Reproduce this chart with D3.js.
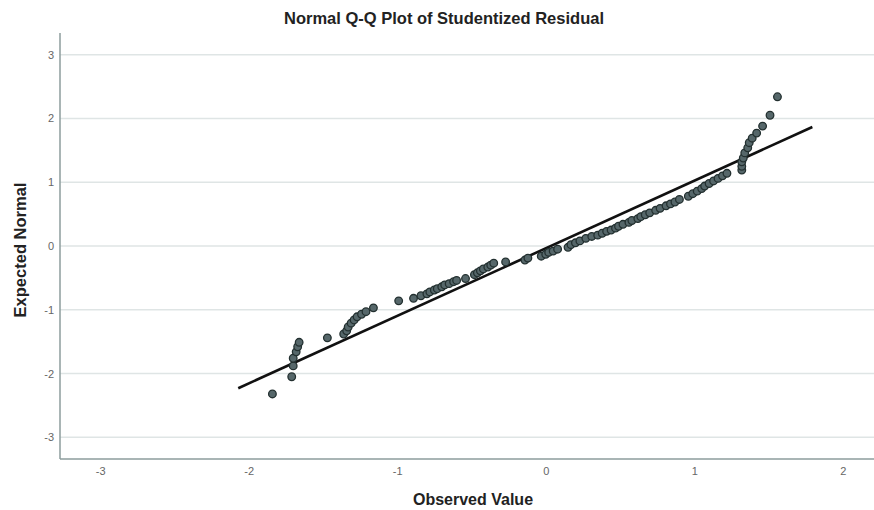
<!DOCTYPE html>
<html lang="en">
<head>
  <meta charset="UTF-8">
  <title>Normal Q-Q Plot of Studentized Residual</title>
  <script src="https://d3js.org/d3.v7.min.js"></script>
  <style>
    body { margin: 0; background: #fff; }
    svg { display: block; font-family: "Liberation Sans", Arial, sans-serif; }
  </style>
</head>
<body>
  <svg width="874" height="510"></svg>

  <script>
    // Observed studentized residuals (x) and expected normal values (y)
    const observed = [
      -1.84, -1.71, -1.70, -1.70, -1.68, -1.67, -1.66, -1.47, -1.36, -1.34,
      -1.33, -1.31, -1.29, -1.27, -1.24, -1.21, -1.16, -0.99, -0.89, -0.84,
      -0.80, -0.78, -0.75, -0.73, -0.70, -0.68, -0.65, -0.62, -0.60, -0.54,
      -0.48, -0.46, -0.44, -0.42, -0.39, -0.37, -0.35, -0.27, -0.14, -0.12,
      -0.03, 0.00, 0.02, 0.05, 0.08, 0.15, 0.17, 0.20, 0.23, 0.27,
      0.31, 0.35, 0.38, 0.41, 0.44, 0.47, 0.49, 0.52, 0.56, 0.58,
      0.62, 0.64, 0.67, 0.70, 0.74, 0.77, 0.81, 0.84, 0.87, 0.90,
      0.96, 0.99, 1.02, 1.05, 1.07, 1.10, 1.13, 1.16, 1.19, 1.22,
      1.32, 1.32, 1.32, 1.33, 1.34, 1.36, 1.37, 1.39, 1.42, 1.46,
      1.51, 1.56
    ];
    const expected = [
      -2.32, -2.05, -1.88, -1.76, -1.66, -1.58, -1.51, -1.44, -1.38, -1.33,
      -1.27, -1.21, -1.16, -1.11, -1.07, -1.03, -0.97, -0.86, -0.82, -0.78,
      -0.75, -0.72, -0.69, -0.67, -0.64, -0.61, -0.59, -0.56, -0.54, -0.51,
      -0.45, -0.42, -0.39, -0.36, -0.33, -0.30, -0.27, -0.25, -0.22, -0.19,
      -0.16, -0.13, -0.10, -0.08, -0.05, -0.02, 0.02, 0.05, 0.08, 0.12,
      0.15, 0.17, 0.20, 0.23, 0.25, 0.28, 0.31, 0.34, 0.37, 0.40,
      0.43, 0.46, 0.49, 0.52, 0.56, 0.59, 0.63, 0.66, 0.69, 0.73,
      0.78, 0.82, 0.86, 0.90, 0.94, 0.98, 1.02, 1.06, 1.10, 1.14,
      1.19, 1.25, 1.32, 1.38, 1.46, 1.54, 1.62, 1.69, 1.77, 1.88,
      2.05, 2.34
    ];

    // Reference line end points
    const refX = [-2.07, 1.795];
    const refY = [-2.23, 1.866];

    const xTicks = [-3, -2, -1, 0, 1, 2];
    const yTicks = [-3, -2, -1, 0, 1, 2, 3];

    const data = observed.map((v, i) => ({ x: v, y: expected[i] }));

    const svg = d3.select("svg"),
          plotLeft = 60, plotRight = 874, plotTop = 33, plotBottom = 459;

    const x = d3.scaleLinear().domain([-3.27, 2.21]).range([plotLeft, plotRight]);
    const y = d3.scaleLinear().domain([-3.34, 3.34]).range([plotBottom, plotTop]);

    // plain hyphen for negatives, like the original
    const fmt = d => String(d);

    // Horizontal grid lines
    svg.append("g")
      .selectAll("line")
      .data(yTicks)
      .join("line")
        .attr("x1", plotLeft)
        .attr("x2", plotRight)
        .attr("y1", d => y(d))
        .attr("y2", d => y(d))
        .attr("stroke", "#dfe5e5")
        .attr("stroke-width", 1.5);

    // Y axis
    const yAxis = svg.append("g")
      .attr("transform", "translate(" + plotLeft + ",0)")
      .call(d3.axisLeft(y).tickValues(yTicks).tickFormat(fmt).tickSize(0).tickPadding(6));
    yAxis.select(".domain").remove();
    yAxis.selectAll("text")
      .attr("font-size", 11)
      .attr("fill", "#666")
      .style("font-family", "Liberation Sans, Arial, sans-serif");

    // X axis
    const xAxis = svg.append("g")
      .attr("transform", "translate(0," + plotBottom + ")")
      .call(d3.axisBottom(x).tickValues(xTicks).tickFormat(fmt).tickSize(0).tickPadding(8));
    xAxis.select(".domain").remove();
    xAxis.selectAll("text")
      .attr("font-size", 11)
      .attr("fill", "#666")
      .style("font-family", "Liberation Sans, Arial, sans-serif");

    // Axis lines
    svg.append("line")
      .attr("x1", plotLeft).attr("x2", plotLeft)
      .attr("y1", plotTop).attr("y2", plotBottom)
      .attr("stroke", "#8d9d9d")
      .attr("stroke-width", 1.5);
    svg.append("line")
      .attr("x1", plotLeft).attr("x2", plotRight)
      .attr("y1", plotBottom).attr("y2", plotBottom)
      .attr("stroke", "#8d9d9d")
      .attr("stroke-width", 1.5);

    // Reference line
    svg.append("line")
      .attr("x1", x(refX[0])).attr("y1", y(refY[0]))
      .attr("x2", x(refX[1])).attr("y2", y(refY[1]))
      .attr("stroke", "#111")
      .attr("stroke-width", 2.6);

    // Points
    svg.append("g")
      .selectAll("circle")
      .data(data)
      .join("circle")
        .attr("cx", d => x(d.x))
        .attr("cy", d => y(d.y))
        .attr("r", 3.8)
        .attr("fill", "#56676a")
        .attr("stroke", "#233030")
        .attr("stroke-width", 1.3);

    // Title
    svg.append("text")
      .attr("x", 444)
      .attr("y", 24)
      .attr("text-anchor", "middle")
      .attr("font-size", 16.5)
      .attr("font-weight", "bold")
      .attr("fill", "#222")
      .text("Normal Q-Q Plot of Studentized Residual");

    // Axis titles
    svg.append("text")
      .attr("x", 473)
      .attr("y", 505)
      .attr("text-anchor", "middle")
      .attr("font-size", 16)
      .attr("font-weight", "bold")
      .attr("fill", "#222")
      .text("Observed Value");

    svg.append("text")
      .attr("transform", "translate(26,250) rotate(-90)")
      .attr("text-anchor", "middle")
      .attr("font-size", 16.5)
      .attr("font-weight", "bold")
      .attr("fill", "#222")
      .text("Expected Normal");
  </script>
</body>
</html>
